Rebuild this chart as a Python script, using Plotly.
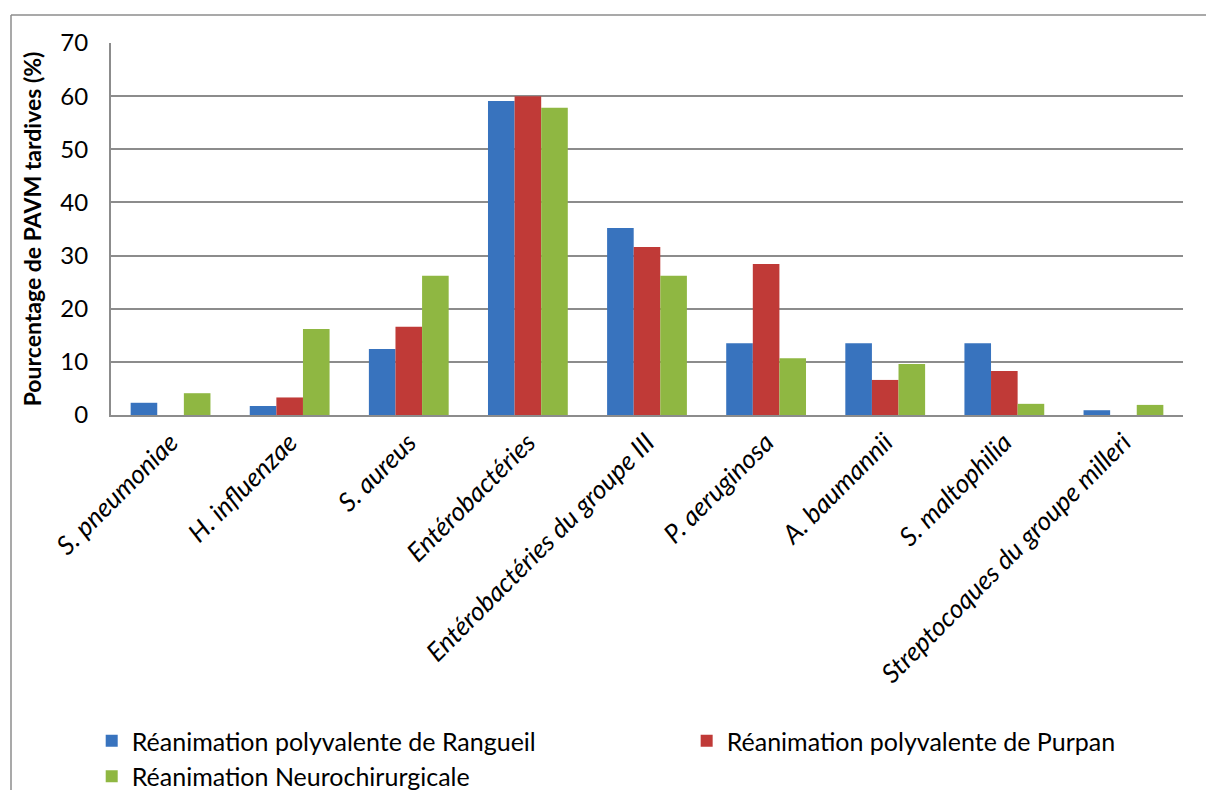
import plotly.graph_objects as go

categories = ["S. pneumoniae", "H. influenzae", "S. aureus", "Entérobactéries",
              "Entérobactéries du groupe III", "P. aeruginosa", "A. baumannii",
              "S. maltophilia", "Streptocoques du groupe milleri"]
rangueil = [2.3, 1.7, 12.4, 59.1, 35.2, 13.5, 13.5, 13.5, 0.9]
purpan = [0, 3.3, 16.6, 60.0, 31.6, 28.4, 6.6, 8.3, 0]
neuro = [4.1, 16.2, 26.2, 57.8, 26.2, 10.7, 9.6, 2.1, 1.9]
series_names = ["Réanimation polyvalente de Rangueil",
                "Réanimation polyvalente de Purpan",
                "Réanimation Neurochirurgicale"]
colors = ["#3873BE", "#C03A37", "#8FB742"]
legend_ids = ["legend", "legend2", "legend"]
y_ticks = [0, 10, 20, 30, 40, 50, 60, 70]

fig = go.Figure()
for name, vals, c, lg in zip(series_names, [rangueil, purpan, neuro], colors, legend_ids):
    fig.add_trace(go.Bar(
        x=categories, y=vals, name=name, legend=lg,
        marker=dict(color=c, line=dict(width=0)),
    ))

font_family = "Lato, 'Open Sans', sans-serif"
legend_common = dict(orientation="v", xanchor="left", yref="container", y=1 - 718 / 790,
                     yanchor="top", font=dict(size=25, family=font_family),
                     itemwidth=30, traceorder="normal", bgcolor="rgba(0,0,0,0)")
fig.update_layout(
    width=1206, height=790,
    margin=dict(l=111, r=23, t=43, b=375),
    paper_bgcolor="white", plot_bgcolor="white",
    barmode="group", bargap=0.33, bargroupgap=0,
    font=dict(family=font_family, size=20, color="black"),
    showlegend=True,
    legend=dict(x=-0.018, **legend_common),
    legend2=dict(x=0.537, **legend_common),
    xaxis=dict(tickangle=-45, tickfont=dict(size=26, family=font_family, style="italic"),
               showline=True, linecolor="#8c8c8c", linewidth=2, showgrid=False,
               ticks="", ticklen=0),
    yaxis=dict(range=[0, 70], tickvals=y_ticks, showgrid=True, gridcolor="#8c8c8c",
               gridwidth=2, showline=True, linecolor="#8c8c8c", linewidth=2,
               zeroline=False, ticks="", tickfont=dict(size=24), ticklabelstandoff=16,
               title=dict(text="<b>Pourcentage de PAVM tardives (%)</b>",
                          font=dict(size=23), standoff=12)),
)

# outer chart border (top and left)
fig.add_shape(type="line", xref="paper", yref="paper",
              x0=-100/1072, x1=1.05, y0=(415-15)/372, y1=(415-15)/372,
              line=dict(color="#8c8c8c", width=1.5))
fig.add_shape(type="line", xref="paper", yref="paper",
              x0=-100/1072, x1=-100/1072, y0=(415-15)/372, y1=-1.2,
              line=dict(color="#8c8c8c", width=1.5))

fig.write_html("out.html")
